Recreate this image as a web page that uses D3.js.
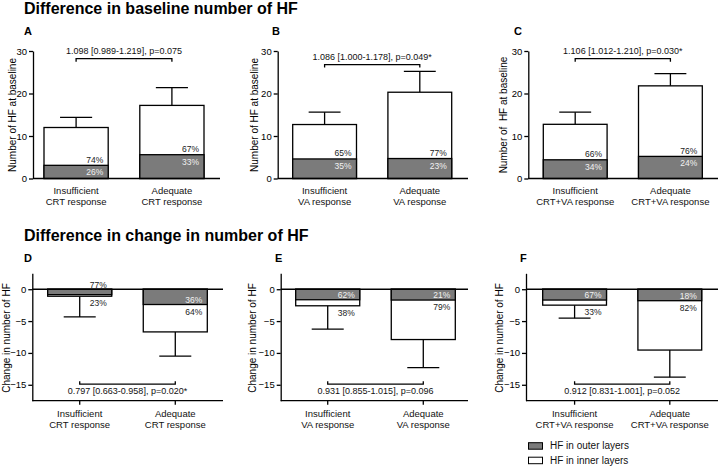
<!DOCTYPE html>
<html>
<head>
<meta charset="utf-8">
<script src="https://cdn.jsdelivr.net/npm/d3@7"></script>
<style>
  html, body { margin: 0; padding: 0; background: #fff; }
  svg { display: block; font-family: "Liberation Sans", Arial, sans-serif; }
</style>
</head>
<body>
<script>
// ---------- DATA ----------
const titleTop = "Difference in baseline number of HF";
const titleBottom = "Difference in change in number of HF";
const legendLabels = ["HF in outer layers", "HF in inner layers"];

const categoriesCRT = [["Insufficient", "CRT response"], ["Adequate", "CRT response"]];
const categoriesVA = [["Insufficient", "VA response"], ["Adequate", "VA response"]];
const categoriesBoth = [["Insufficient", "CRT+VA response"], ["Adequate", "CRT+VA response"]];

const yTicksBaseline = [0, 10, 20, 30];
const yTicksChange = [0, -5, -10, -15];

// Panel A
const totalA = [12.0, 17.2];
const outerA = [3.1, 5.6];
const errA = [14.4, 21.4];
const outerPctA = ["26%", "33%"];
const innerPctA = ["74%", "67%"];
const statA = "1.098 [0.989-1.219], p=0.075";
// Panel B
const totalB = [12.7, 20.3];
const outerB = [4.6, 4.7];
const errB = [15.6, 25.2];
const outerPctB = ["35%", "23%"];
const innerPctB = ["65%", "77%"];
const statB = "1.086 [1.000-1.178], p=0.049*";
// Panel C
const totalC = [12.75, 21.8];
const outerC = [4.4, 5.2];
const errC = [15.6, 24.7];
const outerPctC = ["34%", "24%"];
const innerPctC = ["66%", "76%"];
const statC = "1.106 [1.012-1.210], p=0.030*";
// Panel D
const totalD = [-1.1, -6.7];
const outerD = [-0.85, -2.4];
const errD = [-4.35, -10.5];
const outerPctD = ["77%", "36%"];
const innerPctD = ["23%", "64%"];
const statD = "0.797 [0.663-0.958], p=0.020*";
// Panel E
const totalE = [-2.6, -7.9];
const outerE = [-1.65, -1.7];
const errE = [-6.25, -12.3];
const outerPctE = ["62%", "21%"];
const innerPctE = ["38%", "79%"];
const statE = "0.931 [0.855-1.015], p=0.096";
// Panel F
const totalF = [-2.5, -9.55];
const outerF = [-1.7, -1.8];
const errF = [-4.55, -13.8];
const outerPctF = ["67%", "18%"];
const innerPctF = ["33%", "82%"];
const statF = "0.912 [0.831-1.001], p=0.052";

// ---------- LAYOUT ----------
const W = 719, H = 466;
const DARK = "#7b7b7b";
const SW = 1.3;
const svg = d3.select("body").append("svg").attr("width", W).attr("height", H);

svg.append("text").attr("x", 24).attr("y", 14).attr("font-size", 16).attr("font-weight", "bold").text(titleTop);
svg.append("text").attr("x", 24).attr("y", 241).attr("font-size", 16).attr("font-weight", "bold").text(titleBottom);

const panels = [
  {id: "A", cats: categoriesCRT, total: totalA, outer: outerA, err: errA, op: outerPctA, ip: innerPctA, stat: statA,
   top: true, letterX: 24, axisX: 33, endX: 220, barL: 44, barR: 204, titleX: 16, ytitle: "Number of HF at baseline", bracket: 28.2},
  {id: "B", cats: categoriesVA, total: totalB, outer: outerB, err: errB, op: outerPctB, ip: innerPctB, stat: statB,
   top: true, letterX: 272, axisX: 277.7, endX: 468, barL: 292.7, barR: 451.7, titleX: 258, ytitle: "Number of HF at baseline", bracket: 26.8},
  {id: "C", cats: categoriesBoth, total: totalC, outer: outerC, err: errC, op: outerPctC, ip: innerPctC, stat: statC,
   top: true, letterX: 514, axisX: 528.3, endX: 718, barL: 543.3, barR: 702.3, titleX: 507, ytitle: "Number of  HF at baseline", bracket: 28.2},
  {id: "D", cats: categoriesCRT, total: totalD, outer: outerD, err: errD, op: outerPctD, ip: innerPctD, stat: statD,
   top: false, letterX: 24, axisX: 32.3, endX: 223, barL: 47.7, barR: 207.3, titleX: 10, ytitle: "Change in number of HF", bracket: -14.9},
  {id: "E", cats: categoriesVA, total: totalE, outer: outerE, err: errE, op: outerPctE, ip: innerPctE, stat: statE,
   top: false, letterX: 275, axisX: 280.7, endX: 468, barL: 295.7, barR: 455.3, titleX: 256, ytitle: "Change in number of HF", bracket: -14.9},
  {id: "F", cats: categoriesBoth, total: totalF, outer: outerF, err: errF, op: outerPctF, ip: innerPctF, stat: statF,
   top: false, letterX: 520, axisX: 526, endX: 718, barL: 542.7, barR: 701.7, titleX: 502.5, ytitle: "Change in number of HF", bracket: -14.9}
];

panels.forEach(p => {
  const g = svg.append("g");
  const y = p.top ? d3.scaleLinear().domain([0, 30]).range([178.5, 51])
                  : d3.scaleLinear().domain([-17.5, 2.5]).range([400.7, 273.3]);
  const keys = p.cats.map(c => c.join(" "));
  const x = d3.scaleBand().domain(keys).range([p.barL, p.barR]).paddingInner(0.33).paddingOuter(0);
  const bw = x.bandwidth();
  const cx = i => x(keys[i]) + bw / 2;

  // panel letter
  g.append("text").attr("x", p.letterX).attr("y", p.top ? 35 : 262)
    .attr("font-size", 11).attr("font-weight", "bold").text(p.id);

  // y axis
  const yAxis = d3.axisLeft(y).tickValues(p.top ? yTicksBaseline : yTicksChange)
    .tickSize(4).tickSizeOuter(0).tickPadding(2).tickFormat(d3.format("d"));
  const ya = g.append("g").attr("transform", `translate(${p.axisX},0)`).call(yAxis);
  ya.selectAll("text").attr("font-size", 9.5).attr("fill", "#000").attr("font-family", "Liberation Sans, Arial, sans-serif");
  ya.selectAll("line,path").attr("stroke", "#000").attr("stroke-width", SW);

  // y title
  const ty = p.top ? 115 : 338;
  g.append("text").attr("transform", `translate(${p.titleX},${ty}) rotate(-90)`)
    .attr("text-anchor", "middle").attr("font-size", 10)
    .style("white-space", "pre").text(p.ytitle);

  // bars
  p.total.forEach((t, i) => {
    const xl = x(keys[i]);
    const o = p.outer[i];
    const y0 = y(0);
    // error bar
    g.append("line").attr("x1", cx(i)).attr("x2", cx(i)).attr("y1", y(t)).attr("y2", y(p.err[i]))
      .attr("stroke", "#000").attr("stroke-width", SW);
    g.append("line").attr("x1", cx(i) - bw / 4).attr("x2", cx(i) + bw / 4).attr("y1", y(p.err[i])).attr("y2", y(p.err[i]))
      .attr("stroke", "#000").attr("stroke-width", SW);
    // inner (white) full bar
    g.append("rect").attr("x", xl).attr("width", bw)
      .attr("y", Math.min(y(t), y0)).attr("height", Math.abs(y(t) - y0))
      .attr("fill", "#fff").attr("stroke", "#000").attr("stroke-width", SW);
    // outer (dark) segment
    g.append("rect").attr("x", xl).attr("width", bw)
      .attr("y", Math.min(y(o), y0)).attr("height", Math.abs(y(o) - y0))
      .attr("fill", DARK).attr("stroke", "#000").attr("stroke-width", SW);

    const lx = xl + bw - 5;
    if (p.top) {
      g.append("text").attr("x", lx).attr("y", y(o) - 2.5).attr("text-anchor", "end")
        .attr("font-size", 8.5).attr("fill", "#222").text(p.ip[i]);
      g.append("text").attr("x", lx).attr("y", y(o) + 10).attr("text-anchor", "end")
        .attr("font-size", 8.5).attr("fill", "#f2f2f2").text(p.op[i]);
    } else {
      const darkH = Math.abs(y(o) - y0);
      if (darkH > 9) {
        g.append("text").attr("x", lx).attr("y", y(o) - 2).attr("text-anchor", "end")
          .attr("font-size", 8.5).attr("fill", "#f2f2f2").text(p.op[i]);
      } else {
        g.append("text").attr("x", lx).attr("y", y0 - 1.5).attr("text-anchor", "end")
          .attr("font-size", 8.5).attr("fill", "#222").text(p.op[i]);
      }
      const whiteH = Math.abs(y(t) - y(o));
      const iy = whiteH > 12 ? y(o) + 10 : y(t) + 10;
      g.append("text").attr("x", lx).attr("y", iy).attr("text-anchor", "end")
        .attr("font-size", 8.5).attr("fill", "#222").text(p.ip[i]);
    }
  });

  // x axis / zero line
  g.append("line").attr("x1", p.axisX).attr("x2", p.endX).attr("y1", y(0)).attr("y2", y(0))
    .attr("stroke", "#000").attr("stroke-width", SW);
  let labelBase;
  if (!p.top) {
    const yb = y.range()[0];
    g.append("line").attr("x1", p.axisX).attr("x2", p.endX).attr("y1", yb).attr("y2", yb)
      .attr("stroke", "#000").attr("stroke-width", SW);
    const xa = g.append("g").attr("transform", `translate(0,${yb})`)
      .call(d3.axisBottom(x).tickSize(4).tickFormat(""));
    xa.select(".domain").remove();
    xa.selectAll("line").attr("stroke", "#000").attr("stroke-width", SW);
    labelBase = 417;
  } else {
    labelBase = 194;
  }
  p.cats.forEach((c, i) => {
    const t = g.append("text").attr("text-anchor", "middle").attr("font-size", 9.5).attr("fill", "#111");
    c.forEach((line, k) => {
      t.append("tspan").attr("x", cx(i)).attr("y", labelBase + k * 11).text(line);
    });
  });

  // significance bracket
  const yb = y(p.bracket);
  const x1 = cx(0), x2 = cx(1);
  const dir = p.top ? 3 : -3;
  g.append("path").attr("d", `M${x1},${yb + dir}V${yb}H${x2}V${yb + dir}`)
    .attr("fill", "none").attr("stroke", "#000").attr("stroke-width", SW);
  g.append("text").attr("x", (x1 + x2) / 2).attr("y", p.top ? yb - 5 : yb + 10)
    .attr("text-anchor", "middle").attr("font-size", 9).attr("fill", "#111").text(p.stat);
});

// legend
const leg = svg.append("g");
legendLabels.forEach((lab, i) => {
  const ly = 442.7 + i * 14.5;
  leg.append("rect").attr("x", 528.5).attr("y", ly).attr("width", 14).attr("height", 6.5)
    .attr("fill", i === 0 ? DARK : "#fff").attr("stroke", "#000").attr("stroke-width", 1);
  leg.append("text").attr("x", 550).attr("y", ly + 6.5).attr("font-size", 10).attr("fill", "#111").text(lab);
});
</script>
</body>
</html>
